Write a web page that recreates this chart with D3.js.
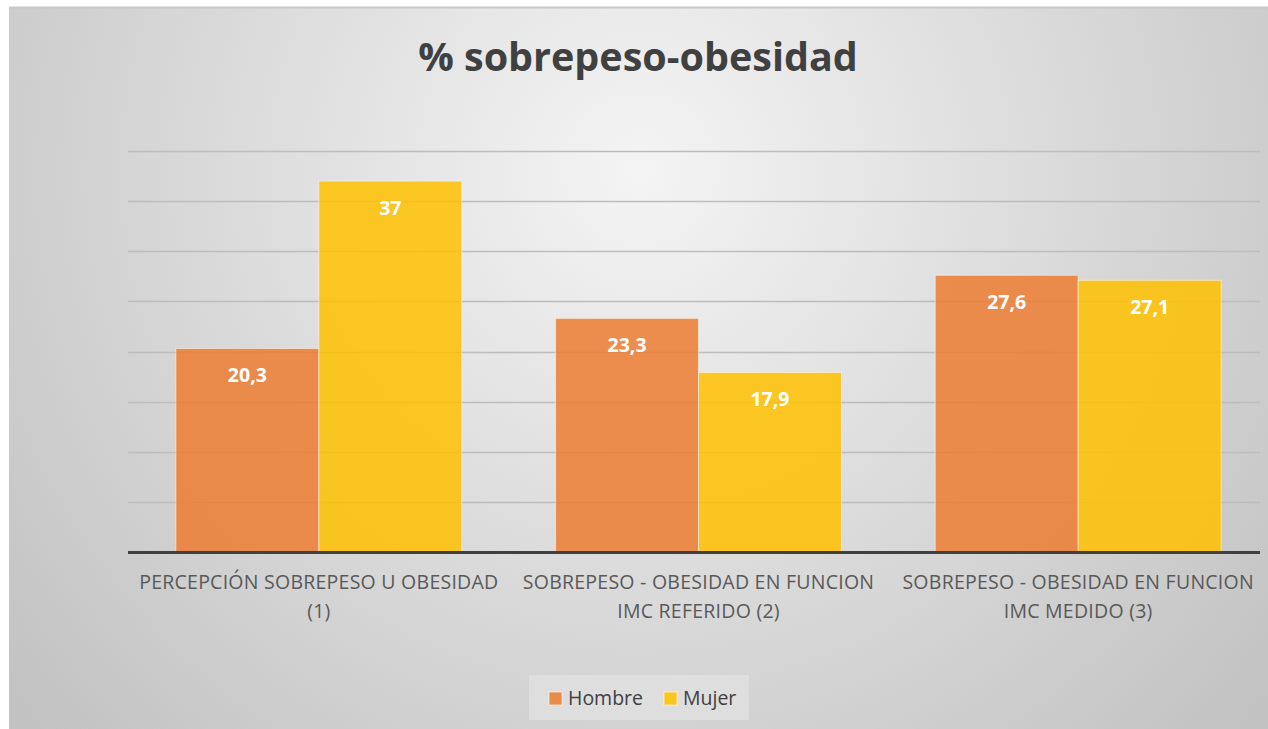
<!DOCTYPE html>
<html><head><meta charset="utf-8">
<script src="https://cdn.jsdelivr.net/npm/d3@7"></script>
<style>body{margin:0;background:#fff;} svg{display:block;}</style>
</head><body>
<svg id="c" width="1268" height="729"></svg>
<script>
const categories = [
  ["PERCEPCIÓN SOBREPESO U OBESIDAD", "(1)"],
  ["SOBREPESO - OBESIDAD EN FUNCION", "IMC REFERIDO (2)"],
  ["SOBREPESO - OBESIDAD EN FUNCION", "IMC MEDIDO (3)"]
];
const seriesNames = ["Hombre", "Mujer"];
const hombre = [20.3, 23.3, 27.6];
const mujer = [37, 17.9, 27.1];
const labelsH = ["20,3", "23,3", "27,6"];
const labelsM = ["37", "17,9", "27,1"];
const yTicks = [0, 5, 10, 15, 20, 25, 30, 35, 40];

(function(){
const colors = {Hombre: "#ED7D31", Mujer: "#FFC000"};
const svg = d3.select("#c");
const defs = svg.append("defs");
const rg = defs.append("radialGradient").attr("id","bg").attr("gradientUnits","userSpaceOnUse")
  .attr("cx",640).attr("cy",170).attr("r",820);
rg.append("stop").attr("offset","0%").attr("stop-color","#f4f4f4");
rg.append("stop").attr("offset","100%").attr("stop-color","#c2c2c2");

svg.append("rect").attr("x",9).attr("y",7).attr("width",1259).attr("height",722).attr("fill","url(#bg)");
svg.append("line").attr("x1",9).attr("x2",1268).attr("y1",7.5).attr("y2",7.5).attr("stroke","#c8c8c8").attr("stroke-width",2);

const pL=128, pR=1260, pT=151, pB=552;
const x0 = d3.scaleBand().domain(d3.range(3)).range([129,1268]).paddingInner(0.247).paddingOuter(0.1235);
const x1 = d3.scaleBand().domain(seriesNames).range([0,x0.bandwidth()]);
const y = d3.scaleLinear().domain([0,40]).range([pB,pT]);

svg.append("g").selectAll("line").data(yTicks.slice(1)).join("line")
  .attr("x1",pL).attr("x2",pR).attr("y1",d=>Math.round(y(d))+0.5).attr("y2",d=>Math.round(y(d))+0.5)
  .attr("stroke","#bdbdbd").attr("stroke-width",1.5);

svg.append("text").attr("x",638).attr("y",71).attr("text-anchor","middle")
  .attr("font-family","Open Sans").attr("font-weight","bold").attr("font-size",39.5).attr("fill","#404040")
  .text("% sobrepeso-obesidad");

const data = [];
categories.forEach((c,i)=>{
  data.push({i, s:"Hombre", v:hombre[i], l:labelsH[i]});
  data.push({i, s:"Mujer", v:mujer[i], l:labelsM[i]});
});

const g = svg.append("g");
g.selectAll("rect").data(data).join("rect")
  .attr("x",d=>x0(d.i)+x1(d.s)).attr("width",x1.bandwidth())
  .attr("y",d=>y(d.v)).attr("height",d=>y(0)-y(d.v))
  .attr("fill",d=>colors[d.s]).attr("fill-opacity",0.85)
  .attr("stroke","#ffffff").attr("stroke-opacity",0.5).attr("stroke-width",1);

g.selectAll("text").data(data).join("text")
  .attr("x",d=>x0(d.i)+x1(d.s)+x1.bandwidth()/2).attr("y",d=>y(d.v)+33.5)
  .attr("text-anchor","middle").attr("font-family","Open Sans").attr("font-weight","bold")
  .attr("font-size",19.5).attr("fill","#ffffff").text(d=>d.l);

svg.append("line").attr("x1",pL).attr("x2",pR).attr("y1",pB+0.5).attr("y2",pB+0.5)
  .attr("stroke","#404040").attr("stroke-width",3);

const xl = svg.append("g");
categories.forEach((c,i)=>{
  const cx = x0(i)+x0.bandwidth()/2;
  const t = xl.append("text").attr("text-anchor","middle").attr("font-family","Open Sans")
    .attr("font-size",19.5).attr("fill","#595959").attr("letter-spacing",0.25);
  c.forEach((line,k)=>{
    t.append("tspan").attr("x",cx).attr("y",589+k*28.5).text(line);
  });
});

const lg = svg.append("g");
lg.append("rect").attr("x",529).attr("y",675).attr("width",220).attr("height",45).attr("fill","#e2e2e2").attr("fill-opacity",0.7);
const legX = [549, 664];
seriesNames.forEach((s,k)=>{
  lg.append("rect").attr("x",legX[k]).attr("y",692).attr("width",13).attr("height",13)
    .attr("fill",colors[s]).attr("fill-opacity",0.85).attr("stroke","#fff").attr("stroke-opacity",0.6);
  lg.append("text").attr("x",legX[k]+19).attr("y",704.5).attr("font-family","Open Sans")
    .attr("font-size",19.5).attr("fill","#404040").text(s);
});
})();
</script>
</body></html>
